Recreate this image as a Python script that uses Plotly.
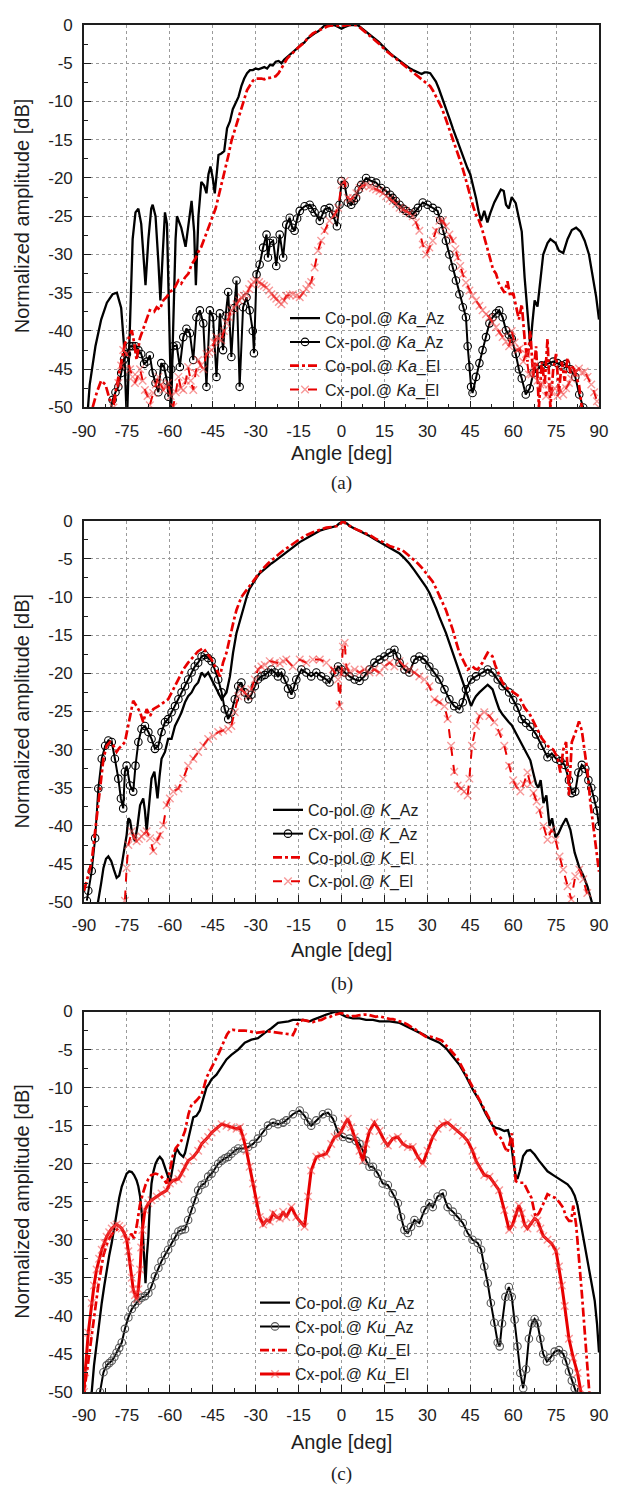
import plotly.graph_objects as go

# ---------------- data: (angle [deg], amplitude [dB]) ----------------
# Panel (a) Ka band
KA_CO_AZ = [(-89,-52),(-88,-47),(-86,-42),(-84,-38.5),(-82,-36.3),(-80,-35.2),(-78.5,-35),(-77,-37),(-76,-42),(-75,-52),
 (-74,-40),(-73,-28),(-72,-24.5),(-71,-24),(-70,-26),(-69,-31),(-68.5,-34),(-67.5,-28),(-66.5,-24),(-66,-23.5),(-65,-25),
 (-64,-31),(-63.3,-36),(-62.5,-30),(-61.7,-24.5),(-61,-26),(-60,-40),(-59.5,-50),(-59,-42),(-58,-28),(-57.5,-25),(-56,-26.5),
 (-54.5,-29),(-53,-24.5),(-52.4,-23),(-51.5,-27),(-50.9,-34),(-50,-25),(-49,-20.5),(-48,-21),(-47.2,-22),(-46.5,-19.5),
 (-45.8,-18.5),(-45,-20),(-44.3,-22),(-43.5,-19),(-43,-17),(-42,-16.8),(-41,-16.5),(-40,-13.5),(-39,-12.6),(-38,-11),
 (-37,-10.2),(-36,-9.4),(-35,-8),(-34,-7),(-33,-6.3),(-32,-5.9),(-31,-5.9),(-30,-5.7),(-29,-5.8),(-28,-5.6),(-27,-5.5),
 (-26,-5.7),(-25,-5.2),(-24,-5.3),(-23,-4.8),(-22,-4.7),(-21,-5.0),(-20,-4.5),(-19,-4.2),(-18,-3.8),(-17,-3.6),(-16,-3.2),
 (-15,-2.9),(-14,-2.5),(-13,-2.3),(-12,-1.8),(-11,-1.5),(-10,-1.2),(-9,-1.0),(-8,-0.8),(-7,-0.4),(-6,-0.1),(-5,0),(-4,0),
 (-3,0),(-2,-0.1),(-1,-0.3),(0,-0.5),(1,-0.3),(2,-0.1),(3,0),(4,0),(5,0),(6,-0.1),(7,-0.4),(8,-0.6),(9,-0.9),(10,-1.2),
 (11,-1.5),(12,-1.8),(13,-2.2),(14,-2.6),(15,-3.0),(16,-3.4),(17,-3.7),(18,-4.0),(19,-4.3),(20,-4.6),(21,-4.9),(22,-5.2),
 (23,-5.4),(24,-5.7),(25,-5.9),(26,-6.1),(27,-6.3),(28,-6.4),(29,-6.2),(30,-6.2),(31,-6.3),(32,-6.8),(33,-7.4),(34,-8.3),
 (35,-9.3),(36,-10.3),(37,-11.3),(38,-12.5),(39,-13.6),(40,-14.6),(41,-15.8),(42,-16.8),(43,-17.8),(44,-18.7),(45,-19.5),
 (46,-21),(47,-22.6),(48,-24.5),(48.8,-25.6),(49.9,-24.3),(51,-25.8),(52,-24.6),(53.4,-23.2),(54.5,-22.4),(55.7,-21.5),
 (56.7,-21.7),(57.5,-23.5),(58.5,-24),(59.5,-22.5),(60.9,-23.3),(62,-25.5),(63,-27),(64,-33),(65,-38),(66,-42),(66.7,-39),
 (67.5,-36),(68.5,-36.8),(69.5,-33),(70.5,-30),(72,-28.5),(73,-28),(74.8,-28.5),(76,-29.5),(77.5,-29.8),(79,-28),
 (80.5,-26.8),(82,-26.5),(83.5,-27),(85,-28.2),(86.5,-30),(88,-33),(89,-35.5),(90,-38.5)]

KA_CX_AZ = [(-81,-51),(-80,-49),(-79,-48),(-78,-47.3),(-77,-45.5),(-76,-43.7),(-75,-43),(-74,-42),(-73,-42),(-72,-42),
 (-71,-42.5),(-70,-43),(-69,-44.3),(-68,-44),(-67,-43.2),(-66,-45.5),(-65,-46.8),(-64,-48),(-63,-44.2),(-62,-44.7),
 (-61,-46.5),(-60.5,-48.6),(-59.5,-45),(-58.8,-42),(-57.6,-41.9),(-56.5,-44.7),(-55.3,-40.8),(-54.2,-39.7),(-53,-40.3),
 (-51.8,-43.8),(-50.7,-38.2),(-49.5,-37.3),(-48.3,-39),(-47.2,-47.3),(-46,-37.3),(-44.9,-38.2),(-43.7,-46),(-42.5,-37.7),
 (-41.4,-42.5),(-40.5,-38),(-39.6,-34.9),(-38.5,-43.4),(-37.5,-37),(-36.7,-33.4),(-35.6,-47.3),(-34.4,-36.9),(-33.2,-35.6),
 (-32.1,-37.3),(-31,-40),(-30.6,-42.9),(-29.7,-32.6),(-28.6,-31.3),(-27.4,-29.1),(-26.2,-27.4),(-25.7,-30.4),(-25,-28.5),
 (-23.9,-28.2),(-22.8,-31.5),(-21.6,-27.4),(-20.4,-30.4),(-19.3,-26.1),(-18.1,-25.2),(-17.2,-26.5),(-16.4,-26.9),
 (-15.5,-25.3),(-14.6,-24.3),(-12.9,-23.7),(-11.1,-23.5),(-10.2,-24),(-9.4,-24.5),(-7.6,-25.6),(-6.7,-24.8),(-5.9,-24.1),
 (-4.2,-23.9),(-3,-24.8),(-1.6,-26.3),(-0.7,-23.5),(0,-20.4),(1.1,-20.9),(2.2,-23.2),(3.4,-23.5),(4.3,-23),(5.1,-22.6),
 (6,-21.5),(6.9,-20.9),(8.6,-20),(10.4,-20.4),(12.1,-20.6),(13.9,-21.3),(15.6,-21.7),(17,-22.2),(17.9,-22.6),(19,-23),
 (20.3,-23.5),(21.5,-24),(22.6,-24.3),(23.8,-24.6),(24.9,-24.8),(25.8,-24.4),(26.7,-23.9),(28.4,-23.2),(30.1,-23.5),
 (31.9,-23.9),(33.6,-24.3),(34.5,-25.5),(35.4,-26.9),(36.5,-28.2),(37.7,-30),(38.9,-31.7),(40,-33.4),(41.2,-35.2),
 (42.4,-36.9),(43.5,-38.2),(44.1,-42),(44.7,-44.7),(45.3,-47.3),(45.8,-48.1),(47,-46),(48.2,-44.2),(49.3,-42.5),
 (50.5,-40.8),(51.7,-39),(52.8,-38.2),(54,-37.7),(55.1,-37.3),(56.3,-38.2),(57.5,-39.9),(58.5,-40.5),(59.5,-41),(60.9,-43),
 (62,-45),(63,-46.2),(64.4,-48.3),(65.8,-47.5),(67.1,-45.5),(68.5,-45),(70,-44.5),(72,-44.3),(74,-44),(75.5,-44.2),
 (77,-44.5),(78.5,-44.3),(80,-45),(81.7,-46),(83.1,-48.3),(84.5,-50),(85.5,-52)]

KA_CO_EL = [(-90,-52),(-87,-50),(-85.5,-48),(-84,-46.5),(-82.5,-47),(-81,-49),(-79.7,-49.4),(-78.5,-47),(-77.4,-45),
 (-76.5,-43.5),(-75.7,-41.6),(-74.5,-41),(-73.3,-39.9),(-72.5,-41.5),(-71.6,-43.8),(-70.5,-41),(-69.5,-40),(-68.7,-39),
 (-67,-37.3),(-65.5,-37.5),(-64.6,-36.9),(-63.5,-37.2),(-62.3,-36),(-61,-35.5),(-60,-34.9),(-58.5,-34.5),(-57,-33.4),
 (-56,-33.8),(-54.7,-33),(-53.5,-32.5),(-52.4,-31.3),(-51,-30.5),(-50.1,-29.7),(-49,-29),(-47.8,-27.8),(-46.5,-26.5),
 (-45.4,-25.2),(-44,-24),(-43.1,-22.6),(-42,-21),(-40.8,-19.1),(-39.5,-17),(-38.5,-15.2),(-37.3,-13.7),(-36.1,-12.2),
 (-35,-10.7),(-33.8,-9.2),(-33,-8.5),(-32,-7.9),(-31,-7.3),(-30,-7),(-29,-7),(-28,-7),(-27,-7.1),(-26,-6.9),(-25,-6.9),
 (-24,-6.8),(-23,-6.7),(-22,-6.3),(-21,-5.7),(-20,-5),(-19,-4.4),(-18,-4),(-17,-3.6),(-16,-3.2),(-15,-2.9),(-14,-2.6),
 (-13,-2.3),(-12,-1.8),(-11,-1.4),(-10,-1.1),(-9,-0.9),(-8,-0.7),(-7,-0.5),(-6,-0.3),(-5,-0.2),(-4,-0.1),(-3,0),(-2,0),
 (-1,-0.1),(0,-0.1),(1,-0.1),(2,0),(3,0),(4,0),(5,0),(6,-0.2),(7,-0.5),(8,-0.8),(9,-1.1),(10,-1.5),(11,-1.8),(12,-2.1),
 (13,-2.4),(14,-2.8),(15,-3.2),(16,-3.5),(17,-3.8),(18,-4.1),(19,-4.4),(20,-4.7),(21,-5),(22,-5.3),(23,-5.6),(24,-5.9),
 (25,-6.2),(26,-6.5),(27,-6.8),(28,-7.1),(29,-7.4),(30,-7.7),(31,-8),(32,-8.6),(33,-9.3),(34,-10),(35,-10.8),(36,-11.8),
 (37,-12.9),(38,-14),(39,-14.9),(40,-15.9),(41,-17),(42,-18.3),(43,-19.6),(44,-21),(45,-22.3),(46,-23.7),(47,-24.8),
 (48,-25.5),(49,-26.5),(50,-28),(51,-29.2),(52,-30.6),(53,-32),(54,-32.5),(55,-33.8),(56,-34.5),(57,-35),(58,-33.5),
 (59,-35.5),(60,-35),(61,-37),(62,-38.5),(63,-36.5),(64,-41),(65,-44),(66,-40),(67,-46),(68,-42),(69,-50),(70,-44),
 (71,-47),(72,-41),(73,-50),(74,-45),(75,-43),(76,-48),(77,-44),(78,-46.5),(79,-43.5),(80,-45.5),(81,-44.5),(82,-46),
 (83,-47),(84,-50),(85,-53)]

KA_CX_EL = [(-80.5,-52),(-79.7,-50),(-78,-46.8),(-77,-44.5),(-76.3,-42.5),(-75.1,-43),(-73.9,-45),(-73,-46),(-72.2,-46.8),
 (-71.3,-46),(-70.4,-45),(-69.5,-46.5),(-68.7,-47.7),(-67.8,-48.5),(-67,-49.7),(-65.8,-48.1),(-64.9,-47),(-64,-46),
 (-63.1,-47),(-62.3,-47.7),(-61.4,-47.3),(-60.6,-46.8),(-59.7,-48.5),(-58.8,-49.9),(-57.9,-48),(-57,-46),(-56.1,-47.5),
 (-55.3,-47.7),(-54.4,-46.5),(-53.6,-44.7),(-52.7,-46.5),(-51.8,-47.7),(-51,-45.5),(-50.1,-43.8),(-49.2,-44.5),(-48.3,-45),
 (-47.2,-43),(-46.3,-42.8),(-45.4,-42.5),(-44.5,-41.5),(-43.7,-40.8),(-42.8,-41),(-42,-41.2),(-41.1,-40),(-40.2,-39),
 (-39.3,-38.2),(-38.5,-37.3),(-37.6,-37),(-36.7,-36.5),(-35.8,-36),(-35,-35.6),(-34.1,-35.4),(-33.2,-35.2),(-32.3,-34.5),
 (-31.5,-33.9),(-30.6,-33.6),(-29.7,-33.4),(-28.8,-33.6),(-28,-33.9),(-27.1,-34.1),(-26.2,-34.3),(-25.3,-34.7),
 (-24.5,-35.2),(-23.6,-35.5),(-22.8,-35.8),(-21.9,-36.2),(-21,-36.5),(-20.1,-36),(-19.3,-35.4),(-18.1,-35.3),(-17,-35.2),
 (-15.8,-35.4),(-14.6,-35.6),(-13.4,-35),(-12.3,-34.5),(-11.4,-34),(-10.6,-33.6),(-9.4,-31.7),(-8.2,-29.5),(-7.1,-28.2),
 (-5.9,-26.9),(-4.2,-25.6),(-2.4,-24.8),(-1.2,-23.9),(0,-20.9),(1.1,-20.4),(2.2,-22.6),(3.1,-22.8),(4,-22.6),(5.2,-22),
 (6.3,-21.3),(7.4,-21),(8.6,-20.9),(9.8,-21.1),(11,-21.3),(12.1,-21.5),(13.3,-21.7),(14.5,-22),(15.6,-22.4),(16.8,-22.7),
 (17.9,-23),(19.1,-23.4),(20.3,-23.9),(21.4,-24.1),(22.6,-24.3),(23.8,-24.6),(24.9,-25),(26,-25.8),(27.2,-26.9),
 (28.4,-28.7),(29.6,-30),(30.7,-29.1),(31.9,-28.2),(33,-26.9),(34.2,-25.6),(35.4,-25.6),(36.5,-26.3),(37.7,-27.4),
 (38.9,-28.2),(39.8,-29.3),(40.6,-30.4),(41.5,-31.5),(42.4,-32.6),(43.5,-33.7),(44.7,-34.7),(45.8,-35.4),(47,-36),
 (48.2,-36.7),(49.3,-37.3),(50.5,-37.8),(51.7,-38.2),(52.8,-38.9),(54,-39.5),(55.1,-40.2),(56.3,-40.8),(57.5,-41.4),
 (58.6,-42),(59.5,-40),(60.5,-41.5),(61.5,-42.5),(62.3,-42.3),(63.5,-44),(64.5,-43),(65.5,-45.7),(66.4,-45.7),(67.5,-44.5),
 (68.5,-46.5),(69.5,-47),(70.6,-47),(71.5,-48.5),(72.5,-47),(73.4,-48),(74.5,-47.5),(75.5,-48.5),(76.5,-47.8),(77.5,-48.3),
 (78.5,-47.5),(79.5,-46.8),(80.3,-46.2),(81.5,-45.5),(83,-44.9),(84,-45.5),(85,-45.3),(86,-46),(87.3,-47),(88.3,-48),
 (89.3,-49.2),(90,-50)]

# Panel (b) K band
K_CO_AZ = [(-86,-52),(-85,-50),(-84,-47.5),(-83.2,-45.5),(-82.3,-44.3),(-81.5,-44),(-80.5,-44.6),(-79.5,-45.8),(-78.6,-46.8),
 (-77.7,-46.5),(-76.8,-45.1),(-75.9,-43),(-75.1,-41.2),(-74.5,-39),(-73.9,-39.3),(-73.3,-40.7),(-72.2,-42),(-71.3,-40),
 (-70.4,-37.3),(-69.3,-36.4),(-68.7,-38),(-68.1,-40.7),(-67.2,-37),(-66.4,-33.8),(-65.4,-32.9),(-64.8,-34.5),(-64.3,-36.4),
 (-63.6,-33.5),(-62.9,-31.2),(-61.7,-30.3),(-60.6,-28.6),(-59.4,-28.6),(-58.2,-26.9),(-57,-26),(-55.9,-25.1),(-54.7,-23.8),
 (-53.6,-23),(-52.4,-22.5),(-51.3,-21.7),(-50.1,-21.2),(-48.9,-19.9),(-47.8,-20.4),(-46.6,-19.9),(-45.4,-20.8),
 (-44.3,-21.7),(-43.1,-22.5),(-41.9,-23.4),(-41,-23),(-40.2,-22.5),(-39,-20.4),(-37.9,-17.3),(-36.7,-14.7),(-35.5,-13),
 (-34.6,-11.8),(-33.8,-10.8),(-33,-9.8),(-32.1,-8.9),(-31.2,-8.3),(-30.3,-7.8),(-29.4,-7.3),(-28.6,-6.9),(-27.7,-6.6),
 (-26.8,-6.3),(-25.7,-6),(-24.5,-5.6),(-23.3,-5.3),(-22.2,-5),(-21,-4.7),(-19.9,-4.3),(-18.1,-3.9),(-16.3,-3.3),
 (-14.6,-2.8),(-12.8,-2.4),(-11.1,-2),(-9.4,-1.6),(-7.6,-1.3),(-5.9,-1.1),(-4.2,-0.9),(-3,-0.8),(-1.8,-0.7),(-0.9,-0.4),
 (0,-0.2),(1.1,-0.2),(2,-0.4),(2.8,-0.7),(4.5,-1),(6.3,-1.3),(8,-1.6),(9.8,-2),(11.5,-2.4),(13.3,-2.8),(15,-3.1),
 (16.8,-3.5),(18.5,-3.9),(20.3,-4.3),(22,-4.9),(23.7,-5.6),(25.5,-6.5),(27.2,-7.4),(28.4,-8),(29.6,-8.7),(30.8,-9.5),
 (31.9,-10.4),(33.1,-11.5),(34.2,-12.6),(35.4,-13.6),(36.5,-14.7),(37.7,-16),(38.9,-17.3),(40,-18.6),(41.2,-19.9),
 (42.4,-21.2),(43.5,-22.5),(44.4,-23.5),(45.3,-24.3),(46.1,-23.6),(47,-23),(48.2,-22.5),(49.3,-22.1),(50.2,-21.7),
 (51.1,-21.5),(52,-21.8),(52.8,-22.1),(54,-23.5),(55.1,-24.7),(56.3,-25.4),(57.5,-26),(58.5,-26.4),(59.5,-26.8),
 (60.5,-27.5),(62,-28.5),(63,-29.2),(64,-30),(65,-30.6),(66,-31.4),(67,-33),(68,-34.5),(68.8,-35),(69.6,-34),(70.6,-37),
 (71.6,-36),(72.7,-40),(73.6,-39),(74.8,-41.5),(75.8,-41),(77,-40),(78.5,-39),(80,-40.5),(81.5,-43.5),(83,-45.3),
 (84.5,-46.5),(86,-48),(87.5,-50),(88.5,-52)]

K_CX_AZ = [(-89,-49.8),(-88.5,-48.5),(-87.3,-45.9),(-86.1,-41.6),(-85,-35.1),(-83.8,-31.2),(-82.6,-29.5),(-81.5,-28.8),
 (-80.3,-29),(-79.2,-31.2),(-78,-33.8),(-77.1,-36.4),(-76.3,-37.7),(-75.7,-32.9),(-75.1,-32.1),(-73.9,-34.7),(-72.8,-35.5),
 (-72,-32.1),(-71,-29),(-69.9,-27.3),(-68.7,-26.9),(-67.5,-27.7),(-66.4,-28.6),(-65.2,-29.9),(-64,-29.5),(-62.9,-27.7),
 (-61.7,-26.4),(-60.6,-26),(-59.4,-25.1),(-58.2,-24.3),(-57,-23.4),(-55.9,-22.5),(-54.7,-21.7),(-53.6,-20.8),(-52.4,-19.9),
 (-51.3,-19.1),(-50.1,-18.6),(-48.9,-17.8),(-47.8,-17.6),(-46.6,-18),(-45.4,-18.4),(-44.3,-19.5),(-43.1,-20.8),
 (-41.9,-22.5),(-40.8,-24.7),(-39.6,-26),(-38.5,-25.1),(-37.3,-23.4),(-36.1,-21.7),(-35,-21.2),(-33.8,-22.5),(-32.6,-23.4),
 (-31.5,-22.8),(-30.3,-21.7),(-29.2,-20.8),(-28,-20.4),(-26.8,-20.2),(-25.7,-19.9),(-24.5,-19.5),(-23.3,-19.9),
 (-22.2,-20.4),(-21,-19.9),(-19.9,-20.8),(-18.7,-22),(-17.5,-22.8),(-16.6,-21.8),(-15.8,-20.8),(-14,-19.5),(-12.3,-19.9),
 (-10.6,-20.4),(-8.8,-19.9),(-7.1,-20.4),(-5.3,-20.8),(-4.2,-21.2),(-2.4,-19.9),(-1.2,-19.1),(0,-19.5),(1.1,-19.9),
 (2.8,-20.4),(4.6,-20.8),(6.3,-21),(8,-20.4),(9.8,-19.5),(11.5,-18.6),(13.3,-18.2),(15,-17.8),(16.8,-17.3),(18.5,-16.9),
 (19.4,-17.8),(20.3,-18.6),(22,-19.5),(23.7,-19.9),(25.5,-18.2),(27.2,-17.8),(29,-18.2),(30.7,-19.1),(32.5,-19.9),
 (34.2,-20.8),(36,-22.1),(37.7,-23.4),(39.4,-24.3),(41.2,-24.7),(42.4,-23.8),(43.5,-22.1),(45.3,-20.8),(47,-20.4),
 (49.3,-19.9),(51.1,-19.5),(52.8,-19.9),(54.6,-20.8),(56.3,-21.7),(58.6,-22.5),(60,-23.5),(61.5,-24.5),(63,-26),
 (64.5,-26.5),(66,-27),(68,-28),(70,-29.5),(72,-31),(73.5,-30.5),(75,-31.2),(76.5,-31.5),(78,-32),(79.5,-34),
 (80.5,-35.7),(81.7,-35.5),(82.8,-33),(84,-32),(85.2,-32.5),(86.3,-34),(87.3,-35),(88.3,-36.5),(89.3,-38),(90,-40)]

K_CO_EL = [(-90,-48.5),(-89,-47.2),(-88.2,-46),(-87.3,-44.6),(-86.5,-42),(-85.6,-39),(-84.4,-34.7),(-83.2,-31.2),
 (-82.1,-29.5),(-80.9,-29),(-79.7,-29.5),(-78.6,-30.3),(-77.7,-29.8),(-76.8,-29.5),(-75.7,-29),(-74.8,-27.3),
 (-73.9,-25.6),(-72.8,-23.6),(-71.6,-24.3),(-70.4,-25.1),(-69.3,-26.4),(-68.1,-24.7),(-66.9,-25.6),(-65.8,-24.7),
 (-64,-24.3),(-62.3,-23.8),(-60.6,-23.4),(-58.8,-22.1),(-57,-20.8),(-55.3,-19.5),(-53.6,-18.6),(-51.8,-17.8),(-50.1,-17.1),
 (-48.3,-16.7),(-47.2,-17.3),(-45.4,-18.2),(-43.7,-19.5),(-42.5,-20.4),(-41.4,-18.6),(-40.2,-17.3),(-39.3,-15.8),
 (-38.5,-14.3),(-37.6,-13),(-36.7,-11.7),(-35.8,-10.7),(-35,-10),(-33.2,-9.1),(-31.5,-8.2),(-29.7,-7.4),(-28,-6.5),
 (-25.7,-5.6),(-23.3,-4.8),(-21,-4.1),(-18.7,-3.5),(-16.5,-2.9),(-14.6,-2.4),(-12.3,-1.9),(-10,-1.5),(-7.6,-1.2),
 (-5.3,-0.9),(-3,-0.8),(-1.5,-0.7),(-0.5,-0.5),(0.5,0),(1.5,-0.4),(2.8,-0.7),(5,-1.1),(7.5,-1.5),(10,-1.9),(12.1,-2.4),
 (14.5,-2.8),(16.8,-3.3),(19,-3.6),(21.4,-3.9),(23,-4.4),(24.9,-5),(26.7,-5.6),(28.4,-6.3),(30.2,-7.1),(31.9,-8),
 (33.1,-8.9),(34.2,-9.8),(35.4,-10.7),(36.5,-11.7),(37.7,-13),(38.9,-14.3),(40,-15.8),(41.2,-17.3),(42.4,-18.2),
 (43.3,-18.9),(44.1,-19.5),(45,-19.3),(45.8,-19.1),(46.7,-19.4),(47.6,-19.5),(48.5,-19),(49.3,-18.6),(50.2,-17.9),
 (51.1,-17.3),(52,-17.5),(52.8,-17.8),(53.7,-18.9),(54.6,-19.9),(55.5,-20.6),(56.3,-21.2),(57.5,-21.8),(58.6,-22.1),
 (60,-22.5),(62,-23),(64,-24.5),(66,-25.5),(68,-27),(70,-28.5),(72,-29.5),(74,-30),(75.5,-31),(76.5,-33),(77.5,-30),
 (78.5,-29),(79.5,-36),(80.5,-29),(82,-27.5),(83,-26.3),(84,-27.5),(85,-30),(86,-33),(87,-37),(88,-40),(89,-43),(90,-46)]

K_CX_EL = [(-76.2,-52),(-75.7,-49.8),(-75.1,-45.5),(-74.5,-42.5),(-73.3,-40.7),(-72.5,-41.5),(-71.6,-42),(-70.8,-41.7),
 (-69.9,-41.4),(-69,-41),(-68.1,-40.7),(-66.9,-41.6),(-65.8,-43.3),(-64.6,-42),(-63.5,-41.2),(-62.3,-39.9),(-61.1,-37.3),
 (-60,-36.4),(-58.8,-35.5),(-57,-35.1),(-55.3,-33.8),(-53.6,-32.1),(-51.8,-31.2),(-50.1,-30.3),(-48.3,-29.5),(-46.6,-28.6),
 (-44.9,-28.2),(-43.1,-27.7),(-41.4,-27.5),(-39.6,-27.3),(-38.5,-26.9),(-37.3,-25.1),(-36.1,-23),(-35,-22.1),(-33.8,-22.5),
 (-32.6,-23),(-31.5,-22.1),(-30.3,-20.8),(-29.2,-19.5),(-28,-19.1),(-26.8,-18.9),(-25.1,-18.4),(-23.3,-18.6),(-21.6,-18.7),
 (-20.4,-18.4),(-19.3,-18.2),(-17,-19.1),(-14.6,-18.2),(-12.3,-18.6),(-10,-18.2),(-7.6,-18.2),(-5.3,-18.6),(-3,-19.5),
 (-1.2,-20.8),(-0.7,-24.3),(0,-20),(0.5,-16.5),(1.1,-16),(1.7,-19.1),(2.8,-19.9),(4.6,-19.5),(6.3,-19.9),(8,-19.5),
 (9.8,-19.9),(11.5,-19.5),(13.3,-19.9),(15,-19.1),(16.8,-18.6),(18.5,-19.1),(20.3,-18.4),(22,-19.1),(23.7,-19.5),
 (25.5,-19.9),(27.2,-20.4),(29,-20.8),(30.7,-21.7),(32.5,-23.4),(34.2,-23.8),(36,-24.3),(37.1,-26),(38.3,-29.5),
 (39.4,-32.9),(40.6,-34.7),(41.8,-35.1),(42.9,-35.5),(44.1,-36),(44.7,-33.8),(45.6,-29.5),(47,-26.9),(48.2,-25.6),
 (49.9,-25.1),(51.7,-25.6),(53.4,-26.4),(55.1,-27.7),(56.9,-29.5),(58.6,-32.1),(60,-34),(61,-34.8),(62.5,-35.5),
 (63.7,-34.5),(65,-33),(66,-34.5),(67.1,-35.7),(68.2,-36.8),(69.2,-37.9),(70.6,-40),(72,-41.8),(73.4,-40.5),(74.8,-41.8),
 (76.2,-44),(77.5,-45.7),(79,-47.9),(80.3,-49.6),(81.7,-46.6),(83.1,-45.7),(84.5,-47),(85.9,-48.8),(87.3,-51),(88,-53)]

# Panel (c) Ku band
KU_CO_AZ = [(-88,-52),(-87.3,-50),(-86.5,-46.5),(-85.6,-43.5),(-84.7,-40.8),(-83.8,-38.3),(-82.9,-36),(-82.1,-33.9),
 (-81.2,-32.1),(-80.3,-30.4),(-79.4,-28.2),(-78.6,-26.1),(-77.7,-24.5),(-76.8,-23),(-75.9,-22),(-75.1,-21.3),(-74.2,-21),
 (-73.3,-21.1),(-72.5,-21.5),(-71.6,-22.2),(-71,-23),(-70.4,-24.3),(-69.8,-26.5),(-69.3,-29.6),(-68.9,-32.5),(-68.5,-35.7),
 (-68,-32),(-67.5,-29.6),(-67,-25.5),(-66.4,-22.6),(-65.7,-21),(-65,-20),(-64.2,-19.4),(-63.5,-19.1),(-62.6,-19.5),
 (-61.7,-20.4),(-60.8,-21.5),(-60,-22.6),(-59.4,-21.3),(-58.8,-20),(-58.2,-18.8),(-57.6,-18),(-56.5,-18.7),(-55.3,-19.1),
 (-54.7,-18.6),(-54.2,-17.8),(-53.6,-16.8),(-53,-15.7),(-52.4,-14.7),(-51.8,-13.9),(-50.7,-13.7),(-49.5,-13),(-48.9,-12.2),
 (-48.3,-11.3),(-47.2,-10),(-46.3,-9.5),(-45.4,-8.9),(-43.7,-8.3),(-41.9,-7.2),(-40.2,-6.3),(-38.5,-5.7),(-36.1,-5),
 (-33.8,-4.1),(-31.5,-3.7),(-29.2,-3.5),(-28,-3.2),(-26.8,-2.8),(-24.5,-2.2),(-22.2,-1.5),(-20.4,-1.4),(-18.5,-1.3),
 (-17,-1.1),(-15,-1.1),(-13.5,-1.1),(-12.3,-1.2),(-11.1,-1.3),(-10,-1.1),(-8.8,-0.9),(-7,-0.6),(-5.3,-0.4),(-3.6,-0.2),
 (-1.8,0),(0,-0.4),(1.7,-0.7),(4,-0.9),(6.3,-0.9),(8.6,-1.1),(11,-1.1),(13.3,-1.3),(16.8,-1.3),(20.3,-1.5),(22,-1.8),
 (23.7,-2.2),(25.5,-2.5),(27.2,-2.8),(29,-3.1),(30.7,-3.5),(32.4,-3.8),(34.2,-4.1),(36.5,-4.8),(38.9,-5.9),(41.2,-7),
 (43.5,-8.5),(45.8,-10.2),(48.2,-11.7),(50.5,-13.5),(52.8,-15),(54,-15.3),(55.1,-15.4),(56.9,-15.7),(58.2,-15.6),
 (59.2,-17),(60,-19.5),(60.8,-21.5),(61.5,-22),(62.3,-21),(63.5,-19),(64.8,-18.3),(66,-18.2),(67.5,-18.8),(69,-19.6),
 (70.6,-20.3),(72,-21),(74,-21.5),(76,-22),(77.5,-22.3),(79,-22.7),(80.3,-23.3),(81.5,-24.2),(82.5,-25.5),(83.5,-27.5),
 (84.5,-30),(85.5,-32),(86.5,-33.5),(87.5,-35.5),(88.5,-38),(89.3,-41),(90,-44.8)]

KU_CX_AZ = [(-85,-52),(-84.4,-50),(-83.2,-47.4),(-82.1,-46.5),(-81.2,-46.2),(-80.3,-45.9),(-79.4,-45.4),(-78.6,-44.8),
 (-77.7,-44.2),(-76.8,-43.5),(-75.7,-41.7),(-74.5,-40.2),(-73.3,-39.1),(-72.2,-38.5),(-71,-38),(-69.9,-37.6),(-68.7,-37.4),
 (-67.5,-37),(-66.4,-36.1),(-65.2,-34.8),(-64,-33.7),(-62.9,-32.8),(-61.7,-32),(-60.6,-31.3),(-59.4,-30.4),(-58.2,-29.6),
 (-57,-28.9),(-55.9,-28.7),(-54.7,-28.6),(-53.6,-27.4),(-52.4,-26.1),(-51.3,-24.8),(-50.1,-23.5),(-48.9,-22.8),
 (-47.8,-22.6),(-46.6,-21.7),(-45.4,-21.3),(-44.3,-20.7),(-43.1,-20),(-41.9,-19.6),(-40.8,-19.3),(-39.6,-19.1),
 (-38.5,-18.7),(-37.3,-18.3),(-36.1,-18),(-34.4,-18),(-32.6,-17.8),(-30.9,-17.4),(-29.2,-16.7),(-27.4,-15.9),(-25.7,-15),
 (-23.9,-14.6),(-22.2,-14.8),(-20.4,-14.6),(-19.3,-14.3),(-17,-13.5),(-14.6,-13),(-12.9,-13.7),(-11.7,-14.5),(-10.6,-15),
 (-8.8,-14.3),(-6.5,-13.5),(-4.7,-13.3),(-3,-14.1),(-1.2,-15.9),(0.5,-16.5),(2.8,-16.7),(5.1,-17),(6.3,-17.4),(7.5,-18.3),
 (8.6,-19.6),(9.8,-20.4),(11,-20.4),(12.7,-21.3),(14.4,-22.6),(16.2,-22.8),(17.9,-23.9),(19.7,-25.2),(20.8,-27),(22,-28.7),
 (23.2,-29.1),(24.3,-28.3),(25.5,-27.4),(27.2,-27.8),(29,-26.1),(30.7,-25.2),(31.9,-25.7),(33.6,-24.3),(35.4,-23.9),
 (37.1,-25.7),(38.9,-26.3),(40.6,-27),(42.4,-27.8),(44.1,-29.1),(45.8,-30),(47.6,-30.4),(48.8,-31.3),(49.9,-33.5),
 (51.1,-35.7),(52.2,-38.3),(53.4,-40.9),(54.6,-43.5),(55.3,-44),(56.1,-41),(57.3,-37.5),(58.5,-36.2),(59.5,-37.5),
 (60.5,-40.5),(61.5,-44),(62.5,-47.5),(63.5,-49.5),(64.5,-47),(65.5,-43),(66.5,-41),(67.5,-40.4),(68.5,-41),(69.5,-43),
 (70.5,-45),(71.8,-46),(73,-45.5),(74.5,-44.7),(76,-44.5),(77.5,-45),(78.5,-46),(79.5,-47.3),(80.5,-48.5),(81.5,-49.5),
 (82.5,-50.5),(83.5,-52)]

KU_CO_EL = [(-90,-51),(-89.6,-49),(-88.5,-46),(-86.7,-41),(-85,-36),(-83.2,-32),(-81.5,-30),(-79.7,-29),(-78,-28.5),
 (-76.8,-28.6),(-75.5,-29.5),(-74.5,-30),(-73.5,-29.2),(-72.5,-29.8),(-71.5,-28),(-70.5,-25.5),(-69.5,-24),(-68.5,-22.8),
 (-67.5,-22),(-66.5,-21.5),(-65,-21.3),(-63.5,-21.5),(-62.9,-21.7),(-61.1,-22.6),(-60,-21),(-59,-19),(-58,-18),(-57,-17.5),
 (-56,-17),(-54.7,-15.7),(-53.5,-13.5),(-52.4,-12.2),(-51.5,-12),(-50.7,-11.7),(-49.5,-11.2),(-48.9,-10.9),(-48,-9.8),
 (-47.2,-8.7),(-46.3,-8),(-45.4,-7.4),(-44.5,-6.8),(-43.7,-6.1),(-42.8,-5.4),(-41.9,-4.6),(-41,-3.8),(-40,-3),(-39,-2.5),
 (-38,-2.4),(-36,-2.5),(-34,-2.5),(-32,-2.6),(-30,-2.8),(-28,-2.7),(-26,-2.6),(-24,-2.7),(-22,-2.8),(-20,-2.9),(-19,-2.9),
 (-18,-3),(-17,-3.1),(-16.2,-2.5),(-15.5,-1.7),(-14.5,-1.3),(-13.5,-1.1),(-12,-1.2),(-10,-1.4),(-8.5,-1.2),(-7,-1.1),
 (-5.5,-0.8),(-4,-0.7),(-3,-0.5),(-2,-0.4),(-1,-0.3),(0,-0.2),(1,-0.4),(2,-0.6),(3,-0.7),(4,-0.6),(5,-0.6),(6,-0.5),
 (7,-0.4),(8,-0.4),(9,-0.4),(10,-0.5),(11,-0.6),(12,-0.7),(13,-0.6),(14,-0.7),(15,-0.9),(16,-0.9),(17,-1),(18,-1),
 (19,-1.1),(20,-1.2),(21,-1.3),(22,-1.5),(23,-1.7),(24,-2),(25,-2.2),(26,-2.4),(27,-2.7),(28,-3),(29,-3.2),(30,-3.4),
 (31,-3.3),(32,-3.4),(33,-3.5),(34,-3.7),(35,-3.8),(36,-4.2),(37,-4.6),(38,-5),(39,-5.4),(40,-5.9),(41,-6.5),(42,-7.2),
 (43,-7.9),(44,-8.5),(45,-9.2),(46,-9.9),(47,-10.7),(48,-11.4),(49,-12),(50,-12.7),(51,-13.5),(52,-14.3),(53,-15.2),
 (54,-16.1),(55,-16.3),(56,-16.8),(57,-17.8),(58,-18.5),(59,-17),(59.5,-16),(60.2,-19),(60.9,-22.3),(62,-22.5),
 (63.7,-22.5),(65,-23.5),(66.4,-24.5),(67.8,-27),(69,-26.5),(69.9,-25.8),(71,-24.8),(72,-24),(73.5,-24.3),(74.8,-24.5),
 (76,-25),(77.5,-25.8),(78.5,-27),(79.5,-27.5),(80.3,-27.5),(81,-25.5),(82,-28),(83,-32),(84,-37),(85,-42),(86,-47),
 (86.6,-50),(87,-52)]

KU_CX_EL = [(-90,-50),(-89.6,-47.4),(-88.5,-42.2),(-87.3,-38.3),(-86.5,-36),(-85.6,-33.9),(-84.7,-32.5),(-83.8,-31.3),
 (-82.9,-30.4),(-82.1,-29.6),(-81.2,-29),(-80.3,-28.5),(-79.4,-28.2),(-78.6,-28),(-77.7,-28.2),(-76.8,-28.5),(-75.9,-29.2),
 (-75.1,-30),(-74.5,-31.5),(-73.9,-33),(-73.3,-35),(-72.8,-36.5),(-72.2,-37.3),(-71.6,-37.8),(-71,-36.5),(-70.4,-33.9),
 (-70,-31),(-69.6,-28.7),(-68.7,-26.1),(-67.5,-25.2),(-66.4,-24.8),(-64.6,-24.3),(-62.9,-23.9),(-61.1,-23.5),(-60,-22.6),
 (-58.8,-22.2),(-57,-22),(-55.9,-21.3),(-54.7,-20.4),(-53.6,-19.6),(-51.8,-19.1),(-50.1,-18.3),(-48.9,-17.4),(-47.8,-17),
 (-46.6,-16.5),(-45.4,-15.9),(-43.7,-15.4),(-41.9,-14.8),(-40.2,-15),(-38.5,-15.2),(-36.7,-15.4),(-35.5,-15.2),
 (-34.4,-16.5),(-33.2,-18.3),(-32.1,-20.4),(-30.9,-22.6),(-29.7,-24.8),(-28.6,-27),(-27.4,-28),(-26.2,-27.4),(-25.1,-27.6),
 (-23.9,-26.5),(-22.8,-27),(-21.6,-27.2),(-20.4,-26.3),(-19.3,-27),(-17.5,-25.7),(-15.8,-27),(-14,-27.8),(-12.9,-28.3),
 (-11.7,-24.3),(-10.6,-20.9),(-8.8,-19.1),(-7.1,-18.9),(-5.3,-18.7),(-3.6,-17.4),(-2.4,-16.5),(-1.2,-16.3),(0,-15.7),
 (1.1,-14.8),(2.2,-14.1),(3.4,-15.2),(4.6,-16.5),(6.3,-18.3),(7.5,-19.6),(8.6,-17.4),(9.8,-15.7),(11.5,-14.6),(13.3,-15.7),
 (15,-17),(16.2,-17.6),(17.9,-16.7),(19.7,-16.5),(21.4,-17.4),(23.2,-17.8),(24.9,-17.8),(26.7,-19.1),(28.4,-20),
 (30.1,-18.3),(31.9,-16.5),(33.6,-15.4),(35.4,-14.8),(37.1,-14.6),(38.9,-15.2),(40.6,-15.7),(42.4,-16.3),(44.1,-17),
 (45.8,-18.3),(47,-19.6),(48.2,-20.4),(49.9,-21.5),(51.7,-21.7),(53.4,-22.6),(55.1,-23.5),(56.9,-26.1),(58.6,-28.7),
 (59.8,-28),(61,-26.5),(62,-25.5),(63,-26.5),(64,-28),(65,-28.5),(66.3,-27.8),(67.5,-27.2),(68.5,-27.5),(69.5,-28.5),
 (70.5,-29.5),(72,-30),(73.5,-30.5),(75,-31.5),(76,-33.5),(77,-36),(78,-38.7),(79.5,-43),(81,-45.5),(82.5,-47.5),
 (83.5,-49.6),(84.5,-52)]

X_TICKS = [-90, -75, -60, -45, -30, -15, 0, 15, 30, 45, 60, 75, 90]
Y_TICKS = [-50, -45, -40, -35, -30, -25, -20, -15, -10, -5, 0]

PANELS = [
    ("Ka", "(a)", KA_CO_AZ, KA_CX_AZ, KA_CO_EL, KA_CX_EL),
    ("K", "(b)", K_CO_AZ, K_CX_AZ, K_CO_EL, K_CX_EL),
    ("Ku", "(c)", KU_CO_AZ, KU_CX_AZ, KU_CO_EL, KU_CX_EL),
]

# ---------------- layout geometry (page pixels) ----------------
# the html body keeps its default 8 px margin, so the figure is 8 px smaller
# and every page position below is measured on the 618 x 1487 page.
PAGE_W, PAGE_H, BODY = 618, 1487, 8
W, H = PAGE_W - BODY, PAGE_H - BODY
AX_L, AX_R = 84, 599                                     # plot area left/right on page
PANEL_PX = [(16, 401), (515, 899), (1009, 1392)]         # top/bottom of each plot area
L = AX_L - BODY
R = W - (AX_R - BODY)
T = PANEL_PX[0][0] - BODY
B = H - (PANEL_PX[-1][1] - BODY)
PLOT_W = AX_R - AX_L
PLOT_H = PANEL_PX[-1][1] - PANEL_PX[0][0]
XTITLE_PX = [447, 947, 1442]
CAPTION_PX = [477, 981, 1475]
LEGEND_POS = [(285, 294), (268, 789), (255, 1285)]      # left, top


def fy(p):
    return (PANEL_PX[-1][1] - p) / PLOT_H


def fx(p):
    return (p - AX_L) / PLOT_W


RED = "rgb(232,0,0)"
RED_LIGHT = "rgba(240,70,70,0.55)"
FONT = "Liberation Sans, Arial, Helvetica, sans-serif"
INK = "#1e1e1e"

fig = go.Figure()

for i, (band, cap, co_az, cx_az, co_el, cx_el) in enumerate(PANELS):
    ax = "" if i == 0 else str(i + 1)
    xref, yref = "x" + ax, "y" + ax
    leg = "legend" + ax
    heavy = band == "Ku"

    def add(data, name, line, marker=None, mode="lines"):
        fig.add_trace(go.Scatter(
            x=[a for a, _ in data], y=[v for _, v in data], mode=mode, name=name,
            line=line, marker=marker, xaxis=xref, yaxis=yref, legend=leg))

    add(co_az, f"Co-pol.@ <i>{band}</i>_Az", dict(color="black", width=2.3))
    add(cx_az, f"Cx-pol.@ <i>{band}</i>_Az", dict(color="black", width=2),
        dict(symbol="circle-open", size=7.5,
             color="rgb(85,85,85)" if heavy else "black", line=dict(width=1.1)),
        mode="lines+markers")
    add(co_el, f"Co-pol.@ <i>{band}</i>_El", dict(color=RED, width=2.7, dash="dashdot"))
    add(cx_el, f"Cx-pol.@ <i>{band}</i>_El",
        dict(color=RED, width=3 if heavy else 2, dash="solid" if heavy else "dash"),
        dict(symbol="x-thin", size=7.5, color=RED_LIGHT,
             line=dict(width=1.4, color=RED_LIGHT)),
        mode="lines+markers")

    top, bot = PANEL_PX[i]
    axis_common = dict(
        showline=True, linecolor=INK, linewidth=1.6, mirror=True,
        showgrid=True, gridcolor="#9a9a9a", griddash="dot", gridwidth=1,
        zeroline=False, ticks="inside", ticklen=7, tickwidth=1.3, tickcolor=INK,
        tickfont=dict(family=FONT, size=17, color=INK),
    )
    fig.update_layout(**{
        "xaxis" + ax: dict(
            axis_common, domain=[0, 1], anchor=yref, range=[-90, 90],
            tickmode="array", tickvals=X_TICKS, ticktext=[str(t) for t in X_TICKS],
            minor=dict(ticks="inside", ticklen=4, tickcolor=INK,
                       tickvals=[t + 7.5 for t in X_TICKS[:-1]], showgrid=False),
            ticklabelstandoff=7,
        ),
        "yaxis" + ax: dict(
            axis_common, domain=[fy(bot), fy(top)], anchor=xref, range=[-50, 0],
            tickmode="array", tickvals=Y_TICKS, ticktext=[str(t) for t in Y_TICKS],
            minor=dict(ticks="inside", ticklen=4, tickcolor=INK,
                       tickvals=[t + 2.5 for t in Y_TICKS[:-1]], showgrid=False),
            ticklabelstandoff=6,
        ),
        leg: dict(x=fx(LEGEND_POS[i][0]), y=fy(LEGEND_POS[i][1]), xanchor="left", yanchor="top",
                  bgcolor="rgba(0,0,0,0)", borderwidth=0,
                  font=dict(family=FONT, size=16, color=INK), tracegroupgap=0),
    })

    centred = dict(xref="paper", yref="paper", showarrow=False, xanchor="center", yanchor="middle")
    fig.add_annotation(text="Normalized amplitude [dB]", textangle=-90, x=fx(22), y=fy((top + bot) / 2),
                       font=dict(family=FONT, size=20, color=INK), **centred)
    fig.add_annotation(text="Angle [deg]", x=fx((AX_L + AX_R) / 2), y=fy(XTITLE_PX[i]),
                       font=dict(family=FONT, size=20, color=INK), **centred)
    fig.add_annotation(text=cap, x=fx((AX_L + AX_R) / 2), y=fy(CAPTION_PX[i]),
                       font=dict(family="Liberation Serif, Times New Roman, serif", size=19, color=INK),
                       **centred)

fig.update_layout(
    width=W, height=H, margin=dict(l=L, r=R, t=T, b=B),
    paper_bgcolor="white", plot_bgcolor="white", showlegend=True,
)

fig.write_html("out.html")
